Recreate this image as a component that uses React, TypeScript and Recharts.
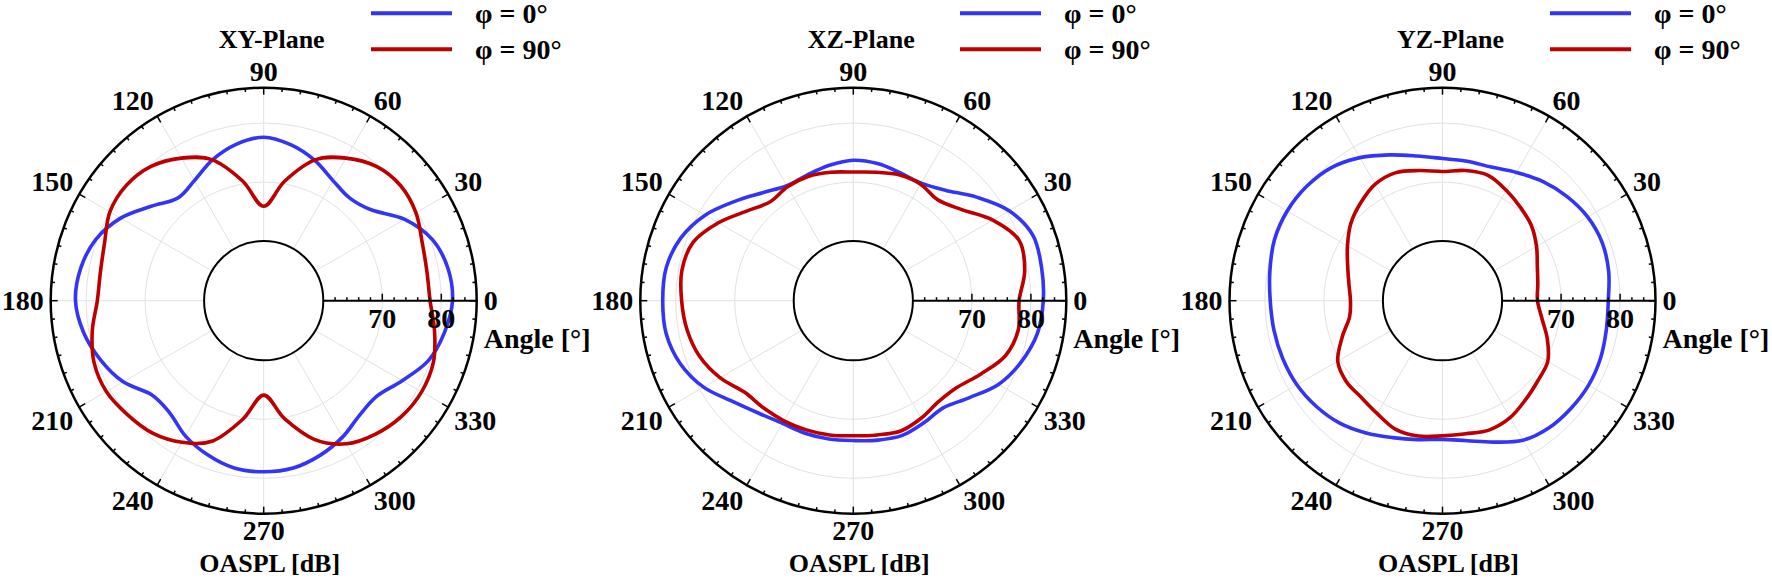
import React from 'react'
import { RadarChart, Radar, PolarGrid, PolarAngleAxis, PolarRadiusAxis, Legend } from 'recharts'

// polar angle (deg) of each sample
const angles = [0, 10, 20, 30, 40, 50, 60, 70, 80, 90, 100, 110, 120, 130, 140, 150, 160, 170,
  180, 190, 200, 210, 220, 230, 240, 250, 260, 270, 280, 290, 300, 310, 320, 330, 340, 350]

// OASPL [dB]
const xyPhi0 = [81.9, 81.6, 80.3, 77.5, 73.8, 72.6, 73.4, 75.2, 76.7, 77.6, 76.8, 75.3,
  73.4, 72.6, 74.8, 77.9, 80.2, 81.4, 81.8, 80.9, 79.3, 77.4, 74.7, 74.7,
  76.4, 77.7, 78.7, 78.9, 78.7, 77.8, 76.6, 75.2, 75.0, 77.0, 79.6, 81.0]
const xyPhi90 = [78.1, 78.0, 78.5, 79.7, 80.2, 79.6, 77.8, 75.3, 70.5, 65.9, 70.5, 75.3,
  77.8, 79.6, 80.3, 80.0, 78.6, 78.0, 78.1, 79.4, 80.5, 80.7, 80.0, 79.2,
  77.6, 75.2, 70.3, 65.9, 70.2, 74.9, 77.9, 79.4, 80.4, 80.8, 80.5, 79.3]
const xzPhi0 = [82.1, 82.3, 82.3, 80.4, 77.2, 74.3, 72.9, 73.0, 73.5, 73.7, 73.2, 72.6,
  72.4, 73.8, 76.1, 78.9, 81.0, 82.1, 82.2, 82.1, 81.1, 79.2, 76.5, 74.8,
  73.9, 73.8, 73.7, 73.6, 73.9, 74.2, 73.8, 73.6, 75.5, 78.3, 80.2, 81.6]
const xzPhi90 = [78.0, 79.4, 79.8, 77.2, 73.9, 72.2, 72.7, 72.6, 72.0, 71.7, 72.0, 72.3,
  72.2, 71.8, 73.5, 76.3, 78.8, 79.4, 79.0, 78.5, 77.6, 76.0, 74.0, 73.6,
  73.4, 73.2, 73.0, 72.8, 73.0, 73.4, 72.9, 72.3, 72.8, 74.8, 77.3, 78.3]
const yzPhi0 = [78.0, 78.5, 78.7, 78.3, 77.4, 76.3, 75.0, 74.0, 73.9, 74.0, 74.8, 76.2,
  77.9, 79.3, 80.0, 80.3, 80.2, 79.6, 79.1, 78.9, 78.7, 78.4, 77.8, 77.0,
  75.8, 74.6, 73.8, 73.4, 74.0, 75.4, 77.2, 78.0, 78.3, 78.5, 78.4, 78.1]
const yzPhi90 = [66.0, 66.3, 67.0, 68.3, 69.6, 70.5, 71.5, 72.5, 72.3, 71.8, 72.3, 73.0,
  72.7, 71.5, 70.2, 68.5, 67.0, 66.0, 65.5, 65.9, 68.0, 70.4, 71.2, 71.3,
  72.0, 73.1, 73.2, 72.8, 72.8, 73.2, 72.8, 71.8, 71.0, 70.5, 68.8, 67.0]

const angleLabels = [0, 30, 60, 90, 120, 150, 180, 210, 240, 270, 300, 330]
const angleTicks = Array.from({ length: 72 }, (_, i) => i * 5)
const radiusTicks = [60, 62, 64, 66, 68, 70, 72, 74, 76, 78, 80, 82, 84, 86]
const radiusLabels = [70, 80]
const gridLevels = [70, 80]
const innerLevel = [60]
const dbDomain: [number, number] = [60, 86]

const CY = 300.7
const R_IN = 59.6
const R_OUT = 213
const FONT = "'Liberation Serif', 'Times New Roman', serif"
const FS = 28
const BLUE = '#3434F4'
const RED = '#BC0000'

const polar = (cx: number, cy: number, r: number, deg: number) => {
  const a = (-deg * Math.PI) / 180
  return { x: cx + r * Math.cos(a), y: cy + r * Math.sin(a) }
}

// closed catmull-rom through the radar vertices
function SmoothRadar(props: any) {
  const pts = props.points || []
  const n = pts.length
  if (n < 3) return null
  let d = `M${pts[0].x},${pts[0].y}`
  for (let i = 0; i < n; i++) {
    const p0 = pts[(i - 1 + n) % n]
    const p1 = pts[i]
    const p2 = pts[(i + 1) % n]
    const p3 = pts[(i + 2) % n]
    const c1x = p1.x + (p2.x - p0.x) / 6
    const c1y = p1.y + (p2.y - p0.y) / 6
    const c2x = p2.x - (p3.x - p1.x) / 6
    const c2y = p2.y - (p3.y - p1.y) / 6
    d += ` C${c1x},${c1y} ${c2x},${c2y} ${p2.x},${p2.y}`
  }
  return <path d={d + 'Z'} fill="none" stroke={props.stroke} strokeWidth={props.strokeWidth} strokeLinejoin="round" />
}

const makeAngleTick = (cx: number) => (props: any) => {
  const deg = Number(props.payload?.coordinate ?? props.payload?.value)
  const val = Number(props.payload?.value)
  const major = val % 30 === 0
  const a = polar(cx, CY, R_OUT, deg)
  const b = polar(cx, CY, R_OUT - (major ? 7 : 3.5), deg)
  let label = null
  if (major && val < 360) {
    const p = polar(cx, CY, R_OUT + 7, deg)
    const c = Math.cos((deg * Math.PI) / 180)
    const s = Math.sin((deg * Math.PI) / 180)
    const anchor = c > 0.1 ? 'start' : c < -0.1 ? 'end' : 'middle'
    const y = s > 0.1 ? p.y : s < -0.1 ? p.y + FS * 0.68 : p.y + FS * 0.34
    label = (
      <text x={p.x} y={y} textAnchor={anchor} fontFamily={FONT} fontWeight="bold" fontSize={FS} fill="#000">
        {val}
      </text>
    )
  }
  return (
    <g>
      <line x1={a.x} y1={a.y} x2={b.x} y2={b.y} stroke="#000" strokeWidth={1.5} />
      {label}
    </g>
  )
}

const radiusTick = (props: any) => {
  const v = Number(props.payload?.value)
  if (v <= dbDomain[0] || v >= dbDomain[1]) return <g />
  const major = radiusLabels.includes(v)
  return (
    <g>
      <line x1={props.x} y1={props.y} x2={props.x} y2={props.y - (major ? 7 : 3.5)} stroke="#000" strokeWidth={1.5} />
      {major && (
        <text x={props.x} y={props.y + 27} textAnchor="middle" fontFamily={FONT} fontWeight="bold" fontSize={FS} fill="#000">
          {v}
        </text>
      )}
    </g>
  )
}

const legendContent = (props: any) => {
  const items = props.payload || []
  return (
    <svg width={220} height={70} style={{ overflow: 'visible' }}>
      {items.map((it: any, i: number) => {
        const y = 13.3 + i * 36
        return (
          <g key={i}>
            <line x1={7} x2={88} y1={y} y2={y} stroke={it.color} strokeWidth={4} />
            <text x={111} y={y + FS * 0.34} fontFamily={FONT} fontWeight="bold" fontSize={FS} fill="#000">{it.value}</text>
          </g>
        )
      })}
    </svg>
  )
}

function PolarPanel({ title, left, width, cx, phi0, phi90 }: any) {
  const rows = angles.map((a, i) => ({ angle: a, phi0: phi0[i], phi90: phi90[i] }))
  return (
    <div style={{ position: 'absolute', left, top: 0, width, height: 580 }}>
      <RadarChart
        width={width}
        height={580}
        data={rows}
        cx={cx}
        cy={CY}
        innerRadius={R_IN}
        outerRadius={R_OUT}
        startAngle={0}
        endAngle={360}
        margin={{ top: 0, right: 0, bottom: 0, left: 0 }}
      >
        <PolarRadiusAxis radiusAxisId="grid" angle={0} type="number" domain={dbDomain} ticks={gridLevels} allowDataOverflow tick={false} axisLine={false} />
        <PolarRadiusAxis radiusAxisId="frame" angle={0} type="number" domain={dbDomain} ticks={innerLevel} allowDataOverflow tick={false} axisLine={false} />
        <PolarGrid radiusAxisId="grid" gridType="circle" polarAngles={angleLabels} stroke="#e2e2e2" strokeWidth={1} />
        <PolarGrid radiusAxisId="frame" gridType="circle" radialLines={false} stroke="#000" strokeWidth={2} />
        <PolarAngleAxis
          dataKey="angle"
          type="number"
          domain={[0, 360]}
          ticks={angleTicks}
          tickCount={73}
          tickLine={false}
          axisLineType="circle"
          axisLine={{ stroke: '#000', strokeWidth: 2.5 }}
          tick={makeAngleTick(cx)}
        />
        <PolarRadiusAxis
          angle={0}
          type="number"
          domain={dbDomain}
          ticks={radiusTicks}
          tickCount={14}
          allowDataOverflow
          axisLine={{ stroke: '#000', strokeWidth: 2 }}
          tick={radiusTick}
        />
        <Radar dataKey="phi0" name="φ = 0°" stroke={BLUE} strokeWidth={3.6} fill="none" legendType="line"
          shape={SmoothRadar} isAnimationActive={false} />
        <Radar dataKey="phi90" name="φ = 90°" stroke={RED} strokeWidth={3.6} fill="none" legendType="line"
          shape={SmoothRadar} isAnimationActive={false} />
        <Legend
          layout="vertical"
          verticalAlign="top"
          align="right"
          content={legendContent}
          wrapperStyle={{ left: cx + 100, top: 0, right: 'auto', width: 220 }}
        />
        <text x={cx + 8} y={47.7} textAnchor="middle" fontFamily={FONT} fontWeight="bold" fontSize={26} fill="#000">{title}</text>
        <text x={cx + 220} y={CY + 47} textAnchor="start" fontFamily={FONT} fontWeight="bold" fontSize={FS} fill="#000">Angle [°]</text>
        <text x={cx + 6} y={572} textAnchor="middle" fontFamily={FONT} fontWeight="bold" fontSize={26} fill="#000">OASPL [dB]</text>
      </RadarChart>
    </div>
  )
}

export default function App() {
  return (
    <div style={{ position: 'absolute', left: 0, top: 0, width: 1772, height: 580, background: '#fff' }}>
      <PolarPanel title="XY-Plane" left={0} width={600} cx={263.7} phi0={xyPhi0} phi90={xyPhi90} />
      <PolarPanel title="XZ-Plane" left={560} width={630} cx={293.3} phi0={xzPhi0} phi90={xzPhi90} />
      <PolarPanel title="YZ-Plane" left={1150} width={622} cx={292.5} phi0={yzPhi0} phi90={yzPhi90} />
    </div>
  )
}
